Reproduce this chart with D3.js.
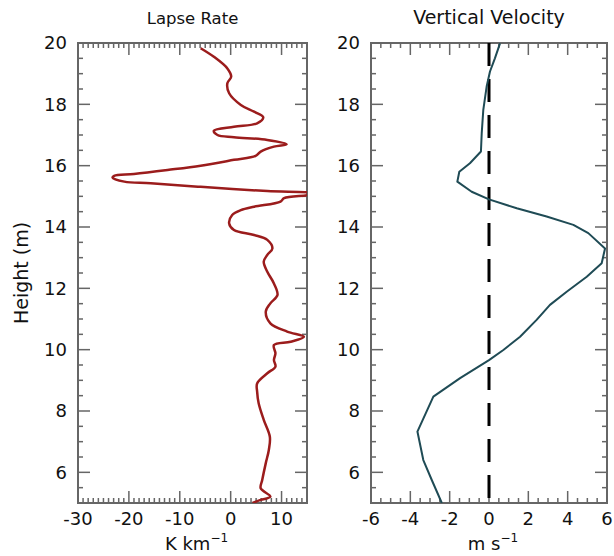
<!DOCTYPE html>
<html>
<head>
<meta charset="utf-8">
<script src="https://cdn.jsdelivr.net/npm/d3@7/dist/d3.min.js"></script>
<style>
  html, body { margin: 0; padding: 0; background: #fff; }
  svg { display: block; font-family: "DejaVu Sans", sans-serif; }
</style>
</head>
<body>
<svg id="chart" width="614" height="556"></svg>
<script>
// Lapse rate profile (K/km) against height (m)
const lapseHeight = [19.83, 19.55, 19.17, 18.9, 18.69, 18.36, 17.98, 17.76, 17.58, 17.38, 17.27, 17.14, 17.0, 16.93, 16.84, 16.7, 16.62, 16.46, 16.32, 16.19, 16.0, 15.86, 15.73, 15.67, 15.61, 15.48, 15.43, 15.31, 15.17, 15.1, 15.05, 14.94, 14.83, 14.66, 14.55, 14.39, 14.12, 13.9, 13.74, 13.58, 13.3, 13.09, 12.87, 12.54, 12.16, 11.78, 11.51, 11.24, 10.86, 10.59, 10.42, 10.26, 10.15, 9.88, 9.66, 9.45, 9.23, 8.9, 8.63, 8.25, 7.71, 7.16, 6.73, 6.3, 5.75, 5.48, 5.21, 5.1, 5.0];
const lapseRate   = [-5.9, -3.3, -0.65, 0.1, -0.65, -0.3, 2.0, 4.6, 6.4, 5.2, 0.65, -3.3, -2.6, 0.65, 7.2, 11.0, 8.5, 5.9, 4.9, 0.65, -5.9, -12.4, -19.0, -22.9, -23.2, -20.9, -15.7, -5.9, 7.2, 16.0, 15.5, 10.5, 9.8, 4.6, 2.0, 0.3, -0.3, 0.65, 4.6, 7.2, 8.2, 7.2, 6.5, 7.2, 8.5, 9.2, 7.8, 6.9, 7.8, 11.1, 14.4, 11.8, 8.5, 8.8, 8.5, 8.8, 7.2, 5.2, 5.2, 5.5, 6.5, 7.7, 7.5, 6.9, 6.2, 5.9, 7.8, 5.9, 4.3];

// Vertical velocity profile (m/s) against height (m)
const velHeight = [19.99, 19.5, 19.07, 18.58, 17.82, 17.06, 16.46, 16.08, 15.8, 15.48, 15.15, 14.9, 14.61, 14.34, 14.07, 13.8, 13.3, 12.82, 12.38, 11.89, 11.46, 10.97, 10.42, 9.99, 9.66, 9.07, 8.47, 7.33, 6.4, 5.75, 5.0];
const velocity  = [0.56, 0.3, 0.05, -0.12, -0.29, -0.37, -0.41, -0.97, -1.51, -1.61, -0.88, 0.0, 1.41, 2.93, 4.29, 5.05, 5.9, 5.73, 4.97, 3.95, 3.1, 2.42, 1.58, 0.73, 0.0, -1.47, -2.83, -3.64, -3.34, -2.91, -2.4];

// Tick labels
const heightTicks = [6, 8, 10, 12, 14, 16, 18, 20];
const lapseTicks = [-30, -20, -10, 0, 10];
const velTicks = [-6, -4, -2, 0, 2, 4, 6];

const svg = d3.select("#chart");
const plotTop = 43, plotBottom = 503;
const frameColor = "#666";

const y = d3.scaleLinear().domain([5, 20]).range([plotBottom, plotTop]);

function panel(opts) {
  const { x0, x1, domain, majorX, minorX, labelsX, title, titleSize, xLabel, clipId } = opts;
  const x = d3.scaleLinear().domain(domain).range([x0, x1]);
  const g = svg.append("g");

  g.append("clipPath").attr("id", clipId)
    .append("rect").attr("x", x0).attr("y", plotTop).attr("width", x1 - x0).attr("height", plotBottom - plotTop);

  // minor and major ticks along x (bottom and top, pointing inward)
  const minorVals = d3.range(domain[0], domain[1] + 1e-9, minorX);
  const majorVals = d3.range(domain[0], domain[1] + 1e-9, majorX);
  const tickG = g.append("g").attr("stroke", frameColor).attr("stroke-width", 1.5);
  minorVals.forEach(v => {
    const isMajor = majorVals.some(m => Math.abs(m - v) < 1e-6);
    const len = isMajor ? 12 : 5;
    tickG.append("line").attr("x1", x(v)).attr("x2", x(v)).attr("y1", plotBottom).attr("y2", plotBottom - len);
    tickG.append("line").attr("x1", x(v)).attr("x2", x(v)).attr("y1", plotTop).attr("y2", plotTop + len);
  });
  // y ticks: minor every 0.5, major every 2
  d3.range(5, 20.001, 0.5).forEach(v => {
    const isMajor = Math.abs(v / 2 - Math.round(v / 2)) < 1e-6;
    const len = isMajor ? 12 : 5;
    tickG.append("line").attr("x1", x0).attr("x2", x0 + len).attr("y1", y(v)).attr("y2", y(v));
    tickG.append("line").attr("x1", x1).attr("x2", x1 - len).attr("y1", y(v)).attr("y2", y(v));
  });

  // frame
  g.append("rect").attr("x", x0).attr("y", plotTop).attr("width", x1 - x0).attr("height", plotBottom - plotTop)
    .attr("fill", "none").attr("stroke", frameColor).attr("stroke-width", 2);

  // y tick labels
  g.selectAll(".ylab").data(heightTicks).enter().append("text")
    .attr("x", x0 - 11).attr("y", d => y(d)).attr("dy", "0.36em")
    .attr("text-anchor", "end").attr("font-size", 18).attr("fill", "#111")
    .text(d => d);

  // x tick labels
  g.selectAll(".xlab").data(labelsX).enter().append("text")
    .attr("x", d => x(d)).attr("y", 525)
    .attr("text-anchor", "middle").attr("font-size", 18).attr("fill", "#111")
    .text(d => d);

  // title
  g.append("text").attr("x", (x0 + x1) / 2).attr("y", 24)
    .attr("text-anchor", "middle").attr("font-size", titleSize).attr("fill", "#111")
    .text(title);

  // x axis label with superscript
  const xl = g.append("text").attr("x", (x0 + x1) / 2 + 4).attr("y", 550)
    .attr("text-anchor", "middle").attr("font-size", 18).attr("fill", "#111");
  xl.append("tspan").text(xLabel);
  xl.append("tspan").attr("font-size", 12).attr("dy", -8).text("\u22121");

  return { g, x };
}

// Left panel: lapse rate
const left = panel({
  x0: 78, x1: 307, domain: [-30, 15], majorX: 10, minorX: 1,
  labelsX: lapseTicks, title: "Lapse Rate", titleSize: 16.5, xLabel: "K km", clipId: "clipL"
});
left.g.append("path")
  .datum(lapseRate.map((v, i) => [v, lapseHeight[i]]))
  .attr("clip-path", "url(#clipL)")
  .attr("fill", "none").attr("stroke", "#9b1c1c").attr("stroke-width", 2.5)
  .attr("stroke-linejoin", "round")
  .attr("d", d3.line().x(d => left.x(d[0])).y(d => y(d[1])).curve(d3.curveCatmullRom.alpha(0.5)));

// Right panel: vertical velocity
const right = panel({
  x0: 371, x1: 607, domain: [-6, 6], majorX: 2, minorX: 0.5,
  labelsX: velTicks, title: "Vertical Velocity", titleSize: 19, xLabel: "m s", clipId: "clipR"
});
// zero reference line
right.g.append("line")
  .attr("x1", right.x(0)).attr("x2", right.x(0)).attr("y1", plotTop).attr("y2", plotBottom)
  .attr("stroke", "#000").attr("stroke-width", 3).attr("stroke-dasharray", "23,13");
right.g.append("path")
  .datum(velocity.map((v, i) => [v, velHeight[i]]))
  .attr("clip-path", "url(#clipR)")
  .attr("fill", "none").attr("stroke", "#1f4b55").attr("stroke-width", 2)
  .attr("stroke-linejoin", "round")
  .attr("d", d3.line().x(d => right.x(d[0])).y(d => y(d[1])));

// shared y axis label
svg.append("text")
  .attr("transform", `translate(28,${(plotTop + plotBottom) / 2}) rotate(-90)`)
  .attr("text-anchor", "middle").attr("font-size", 19).attr("fill", "#111")
  .text("Height (m)");
</script>
</body>
</html>
